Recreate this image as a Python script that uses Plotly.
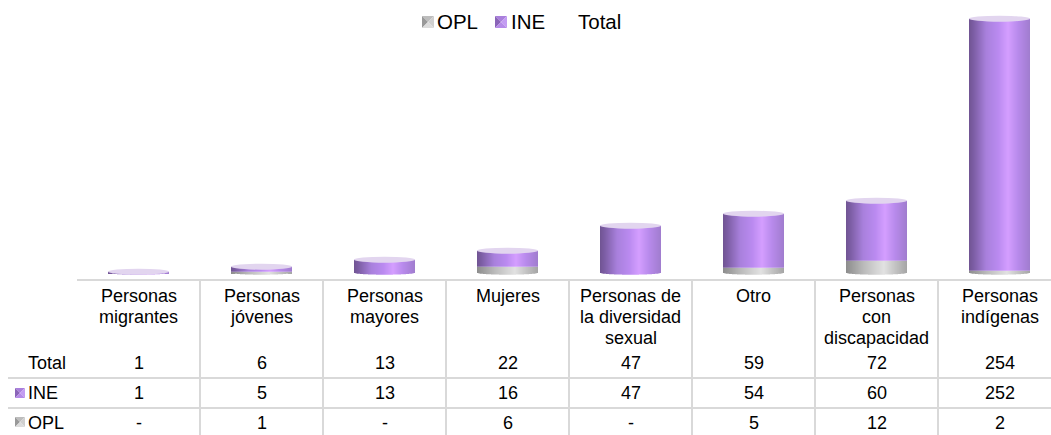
"""
Stacked cylinder chart with a data table under the axis.
"""

import plotly.graph_objects as go

label_lines = [
    ["Personas", "migrantes"],
    ["Personas", "jóvenes"],
    ["Personas", "mayores"],
    ["Mujeres"],
    ["Personas de", "la diversidad", "sexual"],
    ["Otro"],
    ["Personas", "con", "discapacidad"],
    ["Personas", "indígenas"],
]
total = [1, 6, 13, 22, 47, 59, 72, 254]
ine = [1, 5, 13, 16, 47, 54, 60, 252]
opl = [0, 1, 0, 6, 0, 5, 12, 2]

WIDTH, HEIGHT = 1051, 435
PLOT_L, PLOT_B, PLOT_T = 77, 279, 5
CELL = 123  # px per category
BAR_PX = 61
FONT = "Liberation Sans, Arial, sans-serif"
GRID = "#d9d9d9"

# horizontal shading of the cylinders: (position, rgb)
PURPLE = [(0, (112, 84, 146)), (0.08, (125, 94, 165)), (0.28, (168, 128, 220)),
          (0.48, (186, 138, 240)), (0.64, (212, 158, 255)), (0.8, (184, 138, 236)),
          (1, (160, 124, 206))]
GRAY = [(0, (140, 140, 140)), (0.28, (185, 185, 185)), (0.62, (226, 226, 226)),
        (0.8, (196, 196, 196)), (1, (165, 165, 165))]

ICON_PURPLE = ["#a97fdc", "#8a64b8", "#c39cf2", "#b58ae8"]
ICON_GRAY = ["#bdbdbd", "#999999", "#cfcfcf", "#dcdcdc"]


def shade(stops, t):
    for (t0, c0), (t1, c1) in zip(stops, stops[1:]):
        if t <= t1:
            f = (t - t0) / (t1 - t0)
            r, g, b = (round(a + (b - a) * f) for a, b in zip(c0, c1))
            return f"rgb({r},{g},{b})"
    return "rgb({},{},{})".format(*stops[-1][1])


def paper_x(px):
    return (px - PLOT_L) / (WIDTH - PLOT_L)


def paper_y(px):
    return (PLOT_B - px) / (PLOT_B - PLOT_T)


def icon(x0, y0, size, colors):
    # small square made of four triangles, like a bevelled legend key
    x1, y1 = x0 + size, y0 + size
    cx, cy = x0 + size / 2, y0 + size / 2
    tris = [
        [(x0, y0), (x1, y0), (cx, cy)],
        [(x0, y0), (x0, y1), (cx, cy)],
        [(x1, y0), (x1, y1), (cx, cy)],
        [(x0, y1), (x1, y1), (cx, cy)],
    ]
    out = []
    for tri, col in zip(tris, colors):
        path = "M" + " L".join(f"{paper_x(a):.5f},{paper_y(b):.5f}" for a, b in tri) + " Z"
        out.append(dict(type="path", path=path, xref="paper", yref="paper",
                        fillcolor=col, line_width=0))
    return out


def text(x, y, s, size=18, xref="paper", anchor="center"):
    return dict(x=x, y=paper_y(y), xref=xref, yref="paper", text=s, showarrow=False,
                xanchor=anchor, yanchor="middle", align="center",
                font=dict(family=FONT, size=size, color="#000000"))


cats = list(range(len(total)))
fig = go.Figure()

# each cylinder is a row of 1px bar slices, the base follows the lower rim
SLICES = BAR_PX
RIM = 2.0
for i in range(SLICES):
    t = (i + 0.5) / SLICES
    rim = RIM * (1 - (2 * t - 1) ** 2) ** 0.5
    off = (i - SLICES / 2) / CELL
    w = 1.0 / CELL
    fig.add_trace(go.Bar(
        x=cats, y=[v + rim if v else 0 for v in opl], base=-rim, width=w, offset=off,
        marker=dict(color=shade(GRAY, t), line_width=0), showlegend=False, hoverinfo="skip",
    ))
    fig.add_trace(go.Bar(
        x=cats, y=[n + (0 if o else rim) for n, o in zip(ine, opl)],
        base=[o if o else -rim for o in opl], width=w, offset=off,
        marker=dict(color=shade(PURPLE, t), line_width=0), showlegend=False, hoverinfo="skip",
    ))

shapes = []
# top caps of the cylinders
for c, v in zip(cats, total):
    shapes.append(dict(type="circle", xref="x", yref="y", xsizemode="pixel", ysizemode="pixel",
                       xanchor=c, yanchor=v, x0=-BAR_PX / 2, x1=BAR_PX / 2, y0=-3, y1=3,
                       fillcolor="#e2d5ef", line_width=0))

# table grid
for c in cats[:-1]:
    shapes.append(dict(type="line", xref="x", yref="paper", x0=c + 0.5, x1=c + 0.5,
                       y0=paper_y(279), y1=paper_y(435), line=dict(color=GRID, width=2)))
for py in (378, 408):
    shapes.append(dict(type="line", xref="paper", yref="paper", x0=paper_x(8), x1=1,
                       y0=paper_y(py), y1=paper_y(py), line=dict(color=GRID, width=2)))

shapes += icon(422, 16, 12, ICON_GRAY) + icon(495, 16, 12, ICON_PURPLE)
shapes += icon(15, 388, 10, ICON_PURPLE) + icon(15, 417, 10, ICON_GRAY)

annotations = [
    text(paper_x(435), 21, "OPL", 20.5, anchor="left"),
    text(paper_x(509), 21, "INE", 20.5, anchor="left"),
    text(paper_x(576), 21, "Total", 20.5, anchor="left"),
    text(paper_x(26), 363, "Total", anchor="left"),
    text(paper_x(26), 393, "INE", anchor="left"),
    text(paper_x(26), 423, "OPL", anchor="left"),
]
for c, lines in zip(cats, label_lines):
    for n, line in enumerate(lines):
        annotations.append(text(c, 296 + 21 * n, line, xref="x"))
for c, a, b, d in zip(cats, total, ine, opl):
    annotations.append(text(c, 363, str(a), xref="x"))
    annotations.append(text(c, 393, str(b), xref="x"))
    annotations.append(text(c, 423, str(d) if d else "-", xref="x"))

fig.update_layout(
    width=WIDTH,
    height=HEIGHT,
    margin=dict(l=PLOT_L, r=0, t=PLOT_T, b=HEIGHT - PLOT_B),
    barmode="overlay",
    plot_bgcolor="white",
    paper_bgcolor="white",
    shapes=shapes,
    annotations=annotations,
    font=dict(family=FONT),
)
fig.update_xaxes(range=[-0.5, (WIDTH - PLOT_L) / CELL - 0.5], showgrid=False, zeroline=False,
                 showticklabels=False, ticks="", showline=True, linecolor=GRID, linewidth=2)
fig.update_yaxes(range=[-6.3, 267.7], showgrid=False, zeroline=False, showticklabels=False,
                 ticks="", showline=False)

fig.write_html("out.html", config=dict(displayModeBar=False),
               post_script="document.body.style.margin='0';document.body.style.overflow='hidden';")
